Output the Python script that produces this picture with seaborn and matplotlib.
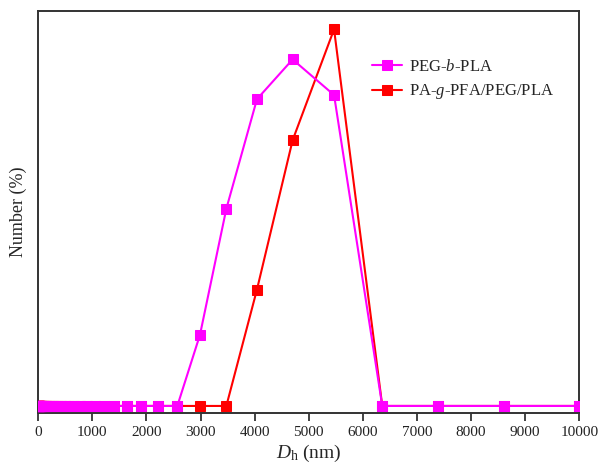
import numpy as np
import pandas as pd
import matplotlib
matplotlib.use('Agg')
import matplotlib.pyplot as plt
import seaborn as sns

# hydrodynamic diameter bins (nm)
size_nm = [1.0, 1.2, 1.4, 1.6, 1.8, 2.1, 2.5, 2.9, 3.3, 3.9,
           4.5, 5.2, 6.1, 7.1, 8.2, 9.6, 11, 13, 15, 18,
           21, 24, 28, 32, 38, 44, 51, 59, 69, 80,
           93, 108, 125, 146, 170, 197, 230, 267, 310, 361,
           420, 488, 568, 660, 768, 893, 1039, 1208, 1405, 1634,
           1900, 2210, 2570, 2989, 3476, 4042, 4701, 5467, 6358, 7394,
           8600, 10000]

# number distribution (%) for each sample
peg_b_pla = [0, 0, 0, 0, 0, 0, 0, 0, 0, 0,
             0, 0, 0, 0, 0, 0, 0, 0, 0, 0,
             0, 0, 0, 0, 0, 0, 0, 0, 0, 0,
             0, 0, 0, 0, 0, 0, 0, 0, 0, 0,
             0, 0, 0, 0, 0, 0, 0, 0, 0, 0,
             0, 0, 0, 5.2, 14.4, 22.4, 25.3, 22.7, 0, 0,
             0, 0]
pa_g_pfa = [0, 0, 0, 0, 0, 0, 0, 0, 0, 0,
            0, 0, 0, 0, 0, 0, 0, 0, 0, 0,
            0, 0, 0, 0, 0, 0, 0, 0, 0, 0,
            0, 0, 0, 0, 0, 0, 0, 0, 0, 0,
            0, 0, 0, 0, 0, 0, 0, 0, 0, 0,
            0, 0, 0, 0, 0, 8.5, 19.4, 27.5, 0, 0,
            0, 0]

labels = ['PEG-$b$-PLA', 'PA-$g$-PFA/PEG/PLA']
colors = ['#ff00ff', '#ff0000']

df = pd.DataFrame({'size': size_nm, 'peg': peg_b_pla, 'pa': pa_g_pfa})

sns.set_style('ticks')
plt.rcParams['font.family'] = ['Liberation Serif', 'DejaVu Serif']
plt.rcParams['mathtext.fontset'] = 'custom'
plt.rcParams['mathtext.rm'] = 'Liberation Serif'
plt.rcParams['mathtext.it'] = 'Liberation Serif:italic'

fig = plt.figure(figsize=(6.03, 4.68), dpi=100)
ax = fig.add_axes([0.0635, 0.1165, 0.8972, 0.861])

# red first so the magenta line sits on top
sns.lineplot(data=df, x='size', y='pa', ax=ax, color=colors[1], marker='s',
             markersize=6.5, markeredgecolor=colors[1], linewidth=1.5,
             label=labels[1], zorder=2)
sns.lineplot(data=df, x='size', y='peg', ax=ax, color=colors[0], marker='s',
             markersize=6.5, markeredgecolor=colors[0], linewidth=1.5,
             label=labels[0], zorder=3)

ax.set_xlim(0, 10000)
ax.set_ylim(-0.55, 28.87)
ax.set_xticks(np.arange(0, 10001, 1000))
ax.set_yticks([])
ax.tick_params(axis='x', direction='out', length=6, width=1.2, labelsize=11,
               pad=3, colors='#222222', labelcolor='#222222')

for sp in ax.spines.values():
    sp.set_linewidth(1.4)
    sp.set_color('#333333')

ax.set_xlabel('$D_\\mathrm{h}$ (nm)', fontsize=14, labelpad=3)
ax.set_ylabel('Number (%)', fontsize=13, labelpad=8)

h, l = ax.get_legend_handles_labels()
ax.legend(h[::-1], l[::-1], loc='upper left', bbox_to_anchor=(0.617, 0.88),
          frameon=False, fontsize=12, handlelength=1.8, handletextpad=0.4,
          labelspacing=0.45, borderpad=0, borderaxespad=0)

fig.savefig('out.png', dpi=100)
